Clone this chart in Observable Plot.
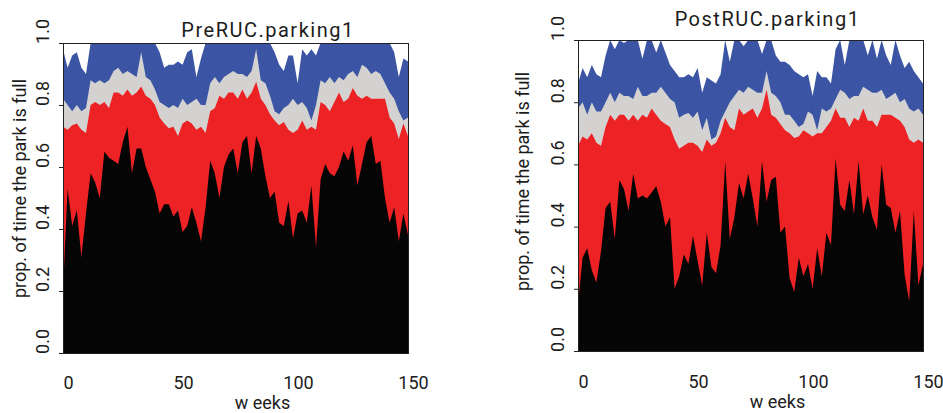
<!DOCTYPE html>
<html>
<head>
<meta charset="utf-8">
<script src="https://cdn.jsdelivr.net/npm/d3@7"></script>
<script src="https://cdn.jsdelivr.net/npm/@observablehq/plot@0.6"></script>
<style>
  html, body { margin: 0; padding: 0; background: #fff; }
  #chart { position: relative; width: 943px; height: 413px; overflow: hidden; background: #fff; }
  #chart svg { position: absolute; top: 0; }
</style>
</head>
<body>
<div id="chart"></div>
<script>
// ---------- data ----------
const weeks = [0,2,4,6,8,10,12,14,16,18,20,22,24,26,28,30,32,34,36,38,40,42,44,46,48,50,52,54,56,58,60,62,64,66,68,70,72,74,76,78,80,82,84,86,88,90,92,94,96,98,100,102,104,106,108,110,112,114,116,118,120,122,124,126,128,130,132,134,136,138,140,142,144,146,148,150];

// cumulative boundaries (top of each layer), PreRUC
const preBlack = [0.20,0.53,0.41,0.46,0.31,0.45,0.58,0.55,0.50,0.65,
  0.63,0.62,0.61,0.68,0.73,0.58,0.66,0.66,0.60,0.56,
  0.52,0.45,0.48,0.48,0.44,0.46,0.39,0.41,0.47,0.42,
  0.36,0.47,0.62,0.58,0.50,0.60,0.64,0.66,0.58,0.68,
  0.70,0.58,0.70,0.66,0.57,0.50,0.52,0.42,0.41,0.49,
  0.37,0.45,0.46,0.42,0.54,0.34,0.56,0.61,0.58,0.57,
  0.60,0.65,0.62,0.67,0.54,0.61,0.68,0.70,0.61,0.62,
  0.50,0.42,0.47,0.36,0.45,0.38];
const preRed = [0.73,0.72,0.735,0.74,0.72,0.71,0.80,0.81,0.80,0.81,
  0.79,0.84,0.84,0.83,0.85,0.83,0.84,0.86,0.83,0.82,
  0.80,0.76,0.74,0.725,0.73,0.70,0.74,0.75,0.74,0.72,
  0.73,0.71,0.78,0.79,0.83,0.82,0.84,0.84,0.82,0.85,
  0.82,0.84,0.875,0.82,0.80,0.77,0.75,0.735,0.745,0.72,
  0.71,0.72,0.75,0.72,0.73,0.72,0.81,0.80,0.78,0.81,
  0.84,0.81,0.82,0.855,0.83,0.82,0.83,0.82,0.82,0.82,
  0.82,0.76,0.74,0.69,0.74,0.70];
const preGray = [0.82,0.80,0.78,0.80,0.78,0.79,0.88,0.87,0.88,0.87,
  0.88,0.91,0.92,0.90,0.91,0.90,0.89,0.97,0.89,0.88,
  0.85,0.81,0.80,0.79,0.80,0.79,0.82,0.80,0.81,0.82,
  0.80,0.80,0.87,0.89,0.87,0.89,0.90,0.91,0.90,0.90,
  0.89,0.91,0.98,0.88,0.87,0.83,0.78,0.77,0.79,0.80,
  0.82,0.80,0.81,0.79,0.75,0.80,0.88,0.87,0.89,0.87,
  0.89,0.88,0.90,0.91,0.89,0.93,0.92,0.90,0.91,0.90,
  0.87,0.84,0.82,0.78,0.75,0.76];
const preBlue = [0.98,0.92,0.96,0.97,0.92,0.90,1,1,1,1,
  1,1,1,1,1,1,1,1,1,1,
  1,0.97,0.92,0.93,0.93,0.94,0.93,0.97,0.98,0.89,
  0.95,1,1,1,1,1,1,1,1,1,
  1,1,1,1,1,1,0.97,0.93,0.91,0.96,
  0.96,0.87,0.98,0.96,0.98,0.96,1,1,1,1,
  1,1,1,1,1,1,1,1,1,1,
  1,1,0.97,0.89,0.95,0.94];

// cumulative boundaries (top of each layer), PostRUC
const postBlack = [0.15,0.30,0.33,0.26,0.22,0.32,0.46,0.48,0.36,0.55,
  0.52,0.45,0.57,0.49,0.50,0.49,0.51,0.53,0.48,0.40,
  0.43,0.20,0.24,0.31,0.28,0.37,0.29,0.21,0.38,0.27,
  0.25,0.34,0.61,0.36,0.43,0.54,0.49,0.57,0.49,0.40,
  0.61,0.48,0.55,0.56,0.38,0.40,0.235,0.19,0.30,0.24,
  0.28,0.20,0.33,0.24,0.38,0.34,0.62,0.47,0.45,0.55,
  0.44,0.61,0.44,0.50,0.43,0.39,0.60,0.47,0.46,0.38,
  0.45,0.245,0.16,0.45,0.21,0.28];
const postRed = [0.66,0.69,0.68,0.70,0.67,0.66,0.72,0.76,0.74,0.76,
  0.76,0.74,0.76,0.74,0.76,0.75,0.78,0.76,0.74,0.73,
  0.72,0.68,0.65,0.66,0.67,0.67,0.66,0.64,0.68,0.66,
  0.67,0.70,0.75,0.72,0.71,0.78,0.76,0.77,0.78,0.75,
  0.78,0.84,0.76,0.75,0.73,0.71,0.70,0.685,0.69,0.71,
  0.70,0.69,0.70,0.70,0.72,0.74,0.78,0.75,0.75,0.72,
  0.75,0.74,0.78,0.74,0.74,0.72,0.76,0.76,0.76,0.75,
  0.74,0.72,0.68,0.67,0.68,0.67];
const postGray = [0.78,0.80,0.76,0.80,0.77,0.77,0.80,0.83,0.80,0.83,
  0.82,0.82,0.81,0.85,0.82,0.82,0.83,0.83,0.85,0.83,
  0.81,0.80,0.75,0.76,0.765,0.75,0.77,0.71,0.75,0.68,
  0.69,0.74,0.77,0.80,0.82,0.84,0.83,0.85,0.84,0.83,
  0.83,0.90,0.83,0.82,0.80,0.76,0.76,0.74,0.72,0.73,
  0.77,0.76,0.71,0.78,0.77,0.78,0.81,0.84,0.83,0.81,
  0.82,0.82,0.85,0.84,0.83,0.83,0.84,0.81,0.82,0.83,
  0.80,0.81,0.78,0.77,0.78,0.76];
const postBlue = [0.86,0.91,0.88,0.92,0.89,0.88,0.95,1,0.97,1,
  0.99,1,1,1,0.94,1,1,0.96,1,0.96,
  0.92,0.90,0.88,0.88,0.89,0.88,0.91,0.83,0.88,0.87,
  0.86,0.89,1,0.93,1,1,0.98,1,1,1,
  0.955,1,1,0.95,0.93,0.93,0.92,0.90,0.89,0.88,
  0.89,0.82,0.90,0.88,0.88,0.86,0.97,1,0.92,1,
  1,1,1,0.95,1,0.94,1,0.95,0.92,1,
  0.95,0.91,0.93,0.90,0.88,0.86];

const xTicks = [0, 50, 100, 150];
const yTicks = [0, 0.2, 0.4, 0.6, 0.8, 1.0];
const titles = ["PreRUC.parking1", "PostRUC.parking1"];
const yTitle = "prop. of time the park is full";
const xTitle = "w eeks";

const layerColors = {blue: "#3b55a4", gray: "#d3d2d1", red: "#ed2224", black: "#050505"};
const textColor = "#1c1c1c";

function panel(cfg) {
  const {series, title, left, width, margin, off} = cfg;
  const layers = [
    [series.blue, layerColors.blue],
    [series.gray, layerColors.gray],
    [series.red, layerColors.red],
    [series.black, layerColors.black]
  ];
  const svg = Plot.plot({
    width, height: 413,
    marginLeft: margin.left, marginRight: margin.right,
    marginTop: margin.top, marginBottom: margin.bottom,
    style: {fontFamily: "Roboto, 'Open Sans', sans-serif", background: "transparent", overflow: "visible"},
    x: {domain: [0, 150], axis: null},
    y: {domain: [0, 1]},
    marks: [
      ...layers.map(([vals, color]) =>
        Plot.areaY(weeks, {x: d => d, y1: 0, y2: vals, fill: color})),
      Plot.frame({stroke: "#222", strokeWidth: 1}),
      Plot.axisY({ticks: yTicks, tickSize: 4, tickFormat: () => "", label: null, stroke: "#222"}),
      Plot.text(yTicks, {y: d => d, text: d => d.toFixed(1), frameAnchor: "left",
        textAnchor: "middle", lineAnchor: "middle",
        rotate: -90, dx: -20, dy: -12, fontSize: 18, fill: textColor}),
      Plot.text(xTicks, {x: d => d, text: d => String(d), frameAnchor: "bottom",
        textAnchor: "middle", lineAnchor: "bottom", dx: 5, dy: off.xTickDy, fontSize: 18, fill: textColor}),
      Plot.text([title], {text: d => d, frameAnchor: "top", textAnchor: "middle", lineAnchor: "bottom",
        dx: off.titleDx, dy: off.titleDy, fontSize: 20, fill: textColor}),
      Plot.text([yTitle], {text: d => d, frameAnchor: "left", textAnchor: "middle", lineAnchor: "middle",
        rotate: -90, dx: off.yTitleDx, dy: off.yTitleDy, fontSize: 18, fill: textColor}),
      Plot.text([xTitle], {text: d => d, frameAnchor: "bottom", textAnchor: "middle", lineAnchor: "bottom",
        dx: off.xTitleDx, dy: off.xTitleDy, fontSize: 18, fill: textColor})
    ]
  });
  svg.style.left = left + "px";
  d3.select(svg).selectAll("text").filter(function () { return this.textContent === title; })
    .style("letter-spacing", "1.5px");
  return svg;
}

const chart = document.getElementById("chart");
chart.appendChild(panel({
  series: {black: preBlack, red: preRed, gray: preGray, blue: preBlue},
  title: titles[0], left: 0, width: 470,
  margin: {left: 63, right: 62, top: 43, bottom: 60},
  off: {xTickDy: 35, titleDx: 32, titleDy: -7, yTitleDx: -43, yTitleDy: -10, xTitleDx: 26.5, xTitleDy: 55}
}));
chart.appendChild(panel({
  series: {black: postBlack, red: postRed, gray: postGray, blue: postBlue},
  title: titles[1], left: 470, width: 473,
  margin: {left: 108, right: 20, top: 40, bottom: 62},
  off: {xTickDy: 36, titleDx: 16.5, titleDy: -15, yTitleDx: -55, yTitleDy: -14.5, xTitleDx: 26.5, xTitleDy: 56}
}));
</script>
</body>
</html>
